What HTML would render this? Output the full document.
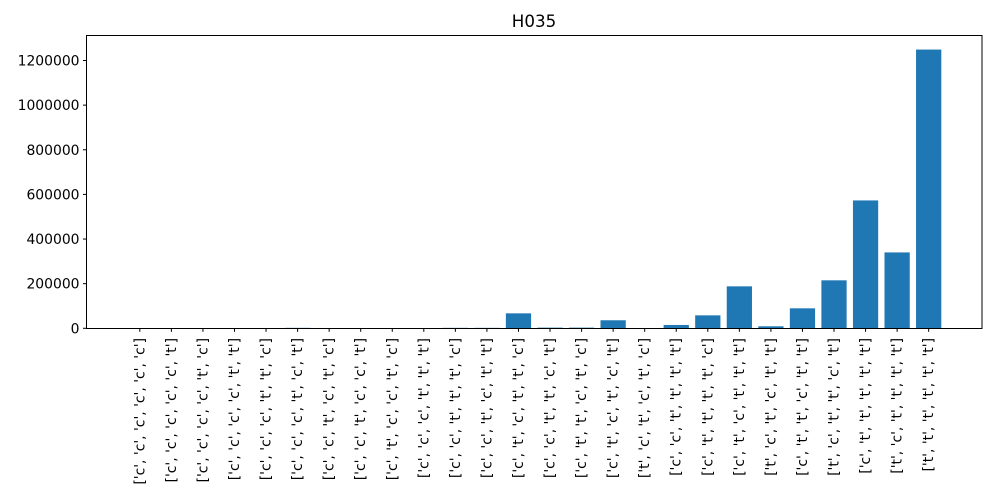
<!DOCTYPE html>
<html><head><meta charset="utf-8"><style>
body{margin:0;background:#fff;}
svg{display:block;font-family:"DejaVu Sans","Liberation Sans",sans-serif;}
</style></head><body>
<svg id="chart" width="1000" height="500">
<rect width="1000" height="500" fill="#fff"/>
<text x="534" y="27" font-size="16.7" text-anchor="middle">H035</text>
<g id="bars"></g><g id="yticks"></g><g id="xticks"></g>
<rect x="86.5" y="35.5" width="895.5" height="293" fill="none" stroke="#000" stroke-width="1"/>
</svg>
<script>
const categories = [
"['c', 'c', 'c', 'c', 'c', 'c']","['c', 'c', 'c', 'c', 'c', 't']","['c', 'c', 'c', 'c', 't', 'c']","['c', 'c', 'c', 'c', 't', 't']",
"['c', 'c', 'c', 't', 't', 'c']","['c', 'c', 'c', 't', 'c', 't']","['c', 'c', 't', 'c', 't', 'c']","['c', 'c', 't', 'c', 'c', 't']",
"['c', 't', 'c', 'c', 't', 'c']","['c', 'c', 'c', 't', 't', 't']","['c', 'c', 't', 't', 't', 'c']","['c', 'c', 't', 'c', 't', 't']",
"['c', 't', 'c', 't', 't', 'c']","['c', 'c', 't', 't', 'c', 't']","['c', 't', 't', 'c', 't', 'c']","['c', 't', 'c', 't', 'c', 't']",
"['t', 'c', 't', 'c', 't', 'c']","['c', 'c', 't', 't', 't', 't']","['c', 't', 't', 't', 't', 'c']","['c', 't', 'c', 't', 't', 't']",
"['t', 'c', 't', 'c', 't', 't']","['c', 't', 't', 'c', 't', 't']","['t', 'c', 't', 't', 'c', 't']","['c', 't', 't', 't', 't', 't']",
"['t', 'c', 't', 't', 't', 't']","['t', 't', 't', 't', 't', 't']"];
const values = [0,0,0,0,0,2000,0,0,0,0,2000,2000,67000,3000,3000,36000,500,15000,58000,188000,9000,89500,215000,573000,340000,1249000];
const yTicks = [0,200000,400000,600000,800000,1000000,1200000];
const NS="http://www.w3.org/2000/svg";
const L=86.5,R=982,B=328.3,yPer=267.8/1200000;
const xmin=-1.69,xmax=26.69;
const xs=v=>L+(v-xmin)*(R-L)/(xmax-xmin);
const ys=v=>B-v*yPer;
const bw=0.8*(R-L)/(xmax-xmin);
const gb=document.getElementById('bars'),gy=document.getElementById('yticks'),gx=document.getElementById('xticks');
function mk(t,a){const e=document.createElementNS(NS,t);for(const k in a)e.setAttribute(k,a[k]);return e;}
values.forEach((v,i)=>{
 const r=mk('rect',{x:xs(i)-bw/2,y:ys(v),width:bw,height:B-ys(v),fill:'#1f77b4'});
 
 
 gb.appendChild(r);
 const t=mk('line',{x1:xs(i),x2:xs(i),y1:B,y2:B+3.5,stroke:'#000'});
 
 
 gx.appendChild(t);
 const x=xs(i)+4.5,y=338;
 const tx=mk('text',{x:x,y:y,'font-size':'13.9','text-anchor':'end',transform:`rotate(-90 ${x} ${y})`});
 tx.textContent=categories[i];
 
 
 gx.appendChild(tx);
});
yTicks.forEach(v=>{
 const y=ys(v);
 const t=mk('line',{x1:L-3.5,x2:L,y1:y,y2:y,stroke:'#000'});
 
 
 gy.appendChild(t);
 const tx=mk('text',{x:L-7,y:y+5,'font-size':'13.9','text-anchor':'end'});
 tx.textContent=String(v);
 
 
 gy.appendChild(tx);
});
</script>
</body></html>
